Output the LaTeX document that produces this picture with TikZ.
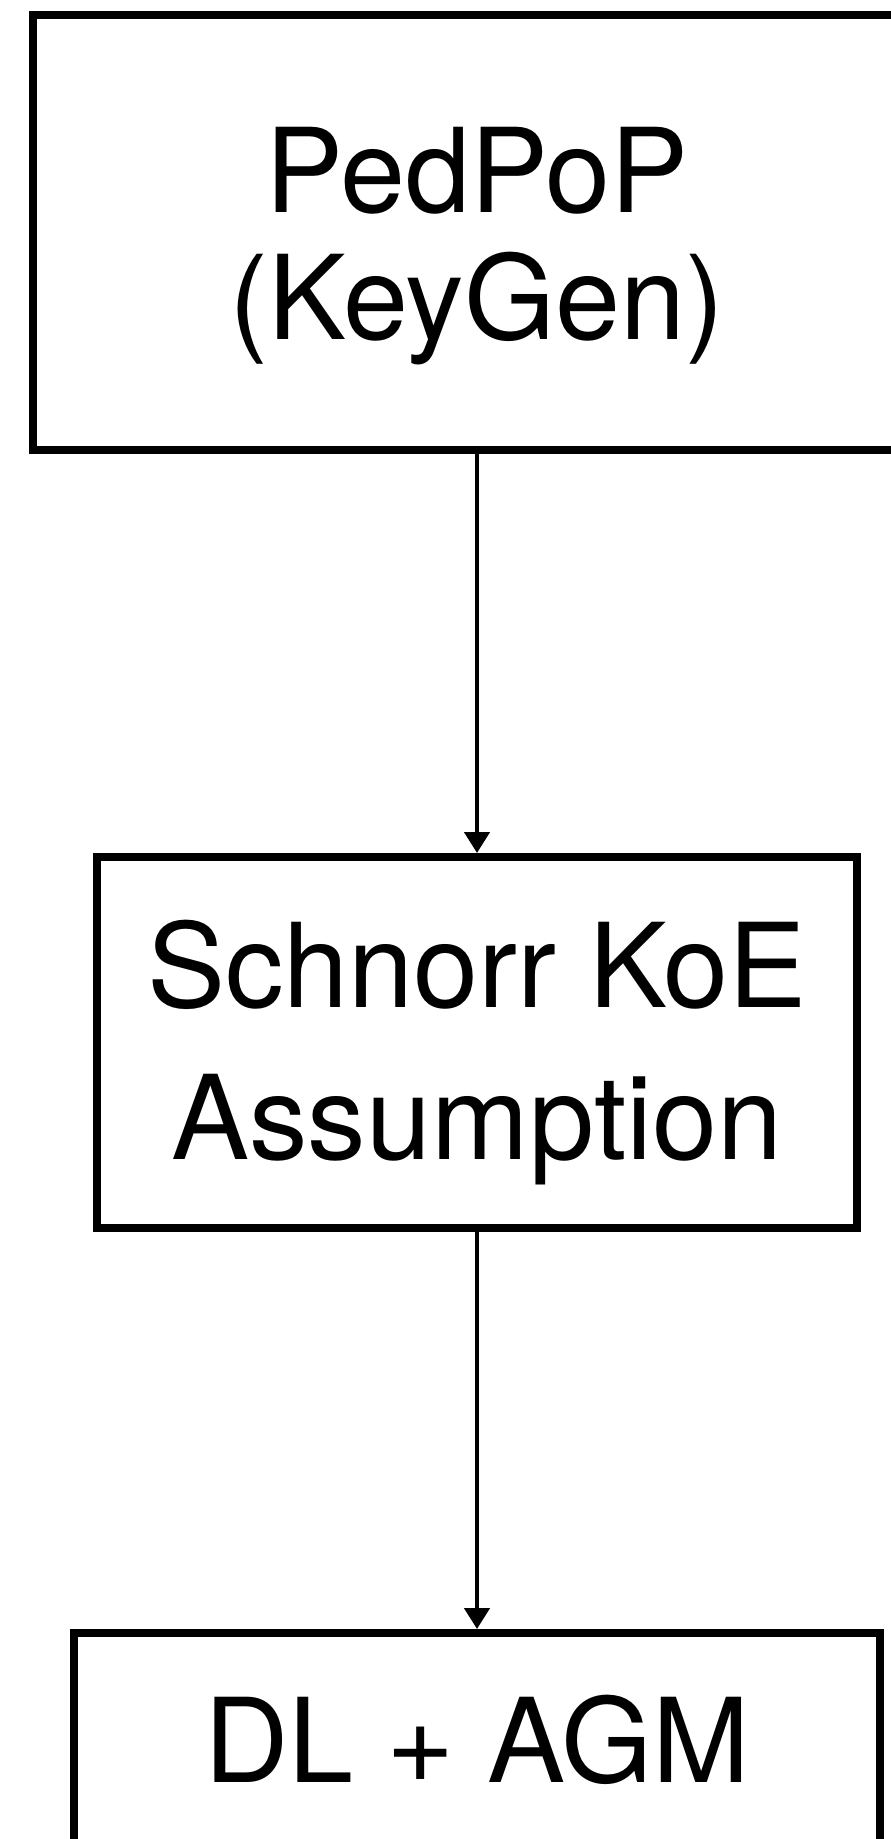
\documentclass[tikz,border=0pt]{standalone}
\usepackage{fontspec}
\setmainfont{TeX Gyre Heros}
\usetikzlibrary{arrows.meta}
\begin{document}
\begin{tikzpicture}[x=1pt,y=-1pt,
  box/.style={draw=black,line width=8pt,inner sep=0pt,anchor=center},
  lbl/.style={anchor=base,inner sep=0pt,font=\fontsize{117}{127}\selectfont},
  conn/.style={line width=4.5pt,-{Triangle[width=25pt,length=21pt]}}]
\fill[white] (0,0) rectangle (891,1839);
\useasboundingbox (0,0) rectangle (891,1839);
\node[box,minimum width=888pt,minimum height=435.5pt] (top) at (477,232.25) {};
\node[box,minimum width=760.4pt,minimum height=371pt] (mid) at (477,1042.5) {};
\node[box,minimum width=806.5pt,minimum height=214pt] (bot) at (477,1740) {};
\node[lbl] (t1) at (477,212) {PedPoP};
\node[lbl] (t2) at (477,339) {(KeyGen)};
\node[lbl] (m1) at (477,1007) {Schnorr KoE};
\node[lbl] (m2) at (477,1159) {Assumption};
\node[lbl] (b1) at (477,1782) {DL + AGM};
\draw[conn] (top.south) -- (mid.north);
\draw[conn] (mid.south) -- (bot.north);
\end{tikzpicture}
\end{document}
